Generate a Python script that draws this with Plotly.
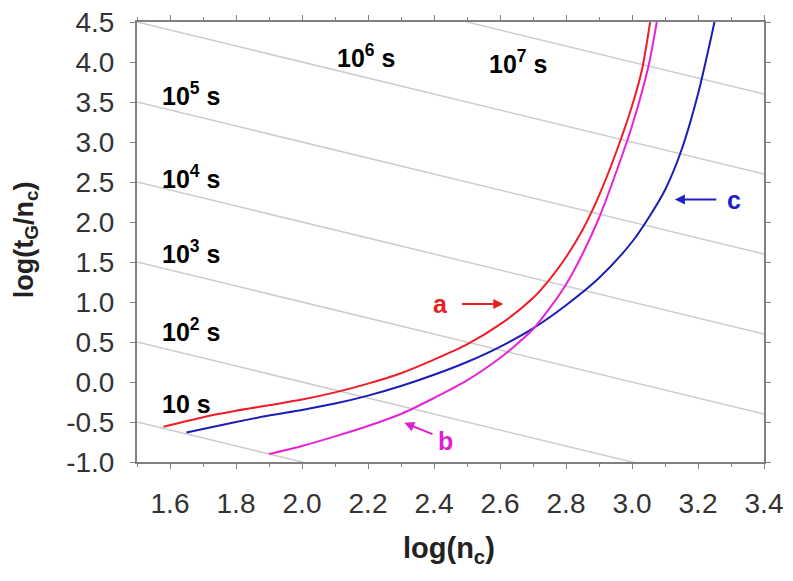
import plotly.graph_objects as go

# curve a (red)
a_x = [1.58, 1.7, 1.8, 1.9, 2.0, 2.1, 2.2, 2.3, 2.4, 2.5, 2.6, 2.7, 2.75, 2.8, 2.85, 2.9, 2.95, 3.0, 3.03, 3.055]
a_y = [-0.56, -0.44, -0.36, -0.29, -0.22, -0.13, -0.02, 0.11, 0.28, 0.47, 0.72, 1.05, 1.28, 1.56, 1.9, 2.33, 2.85, 3.45, 3.9, 4.5]

# curve b (magenta)
b_x = [1.9, 2.0, 2.1, 2.2, 2.3, 2.4, 2.5, 2.6, 2.65, 2.7, 2.75, 2.8, 2.85, 2.9, 2.95, 3.0, 3.05, 3.075]
b_y = [-0.9, -0.8, -0.68, -0.55, -0.4, -0.2, 0.02, 0.3, 0.47, 0.66, 0.92, 1.22, 1.6, 2.05, 2.6, 3.2, 3.95, 4.5]

# curve c (blue)
c_x = [1.65, 1.8, 1.9, 2.0, 2.1, 2.2, 2.3, 2.4, 2.5, 2.6, 2.7, 2.8, 2.9, 3.0, 3.05, 3.1, 3.15, 3.2, 3.25]
c_y = [-0.63, -0.5, -0.42, -0.35, -0.27, -0.17, -0.05, 0.09, 0.25, 0.44, 0.67, 0.96, 1.3, 1.75, 2.05, 2.4, 2.9, 3.6, 4.5]

# iso-time lines: log(tG) = y + x
log_tg = [1, 2, 3, 4, 5, 6, 7]
x_span = [1.5, 3.4]

# labels of the iso-time lines
lbl_text = ["10 s", "10<sup>2</sup> s", "10<sup>3</sup> s", "10<sup>4</sup> s",
            "10<sup>5</sup> s", "10<sup>6</sup> s", "10<sup>7</sup> s"]
lbl_x = [1.57, 1.57, 1.57, 1.57, 1.57, 2.1, 2.56]
lbl_y = [-0.27, 0.65, 1.62, 2.56, 3.6, 4.08, 4.0]

# tick labels
x_ticks = [1.6, 1.8, 2.0, 2.2, 2.4, 2.6, 2.8, 3.0, 3.2, 3.4]
y_ticks = [-1.0, -0.5, 0.0, 0.5, 1.0, 1.5, 2.0, 2.5, 3.0, 3.5, 4.0, 4.5]
y_ticktext = ["-1.0", "-0.5", "0.0", "0.5", "1.0", "1.5", "2.0", "2.5", "3.0", "3.5", "4.0", "4.5"]

fig = go.Figure()

for k in log_tg:
    fig.add_trace(go.Scatter(x=x_span, y=[k - x for x in x_span], mode="lines",
                             line=dict(color="#cccccc", width=1.5), hoverinfo="skip"))

fig.add_trace(go.Scatter(x=c_x, y=c_y, mode="lines", line=dict(color="#1c1cb8", width=2, shape="spline", smoothing=0.8)))
fig.add_trace(go.Scatter(x=b_x, y=b_y, mode="lines", line=dict(color="#e524d8", width=2, shape="spline", smoothing=0.8)))
fig.add_trace(go.Scatter(x=a_x, y=a_y, mode="lines", line=dict(color="#f01c28", width=2, shape="spline", smoothing=0.8)))

for t, x, y in zip(lbl_text, lbl_x, lbl_y):
    fig.add_annotation(x=x, y=y, text="<b>" + t + "</b>", showarrow=False, xanchor="left",
                       font=dict(size=25, color="black", family="Liberation Sans"))

# curve letters with arrows
fig.add_annotation(x=2.61, y=0.975, ax=2.48, ay=0.975, axref="x", ayref="y", text="",
                   showarrow=True, arrowhead=2, arrowsize=1, arrowwidth=2, arrowcolor="#e82020")
fig.add_annotation(x=2.42, y=0.975, text="<b>a</b>", showarrow=False,
                   font=dict(size=25, color="#e82020", family="Liberation Sans"))
fig.add_annotation(x=2.31, y=-0.51, ax=2.4, ay=-0.66, axref="x", ayref="y", text="",
                   showarrow=True, arrowhead=2, arrowsize=1, arrowwidth=2, arrowcolor="#e020d0")
fig.add_annotation(x=2.435, y=-0.74, text="<b>b</b>", showarrow=False,
                   font=dict(size=25, color="#e020d0", family="Liberation Sans"))
fig.add_annotation(x=3.13, y=2.28, ax=3.26, ay=2.28, axref="x", ayref="y", text="",
                   showarrow=True, arrowhead=2, arrowsize=1, arrowwidth=2, arrowcolor="#2020c0")
fig.add_annotation(x=3.31, y=2.28, text="<b>c</b>", showarrow=False,
                   font=dict(size=25, color="#2020c0", family="Liberation Sans"))

# axis titles
fig.add_annotation(xref="paper", yref="paper", x=0.498, y=-0.2, xanchor="center", yanchor="middle",
                   text="<b>log(n<sub>c</sub>)</b>",
                   showarrow=False, font=dict(size=29, color="#222222", family="Liberation Sans"))
fig.add_annotation(xref="paper", yref="paper", x=-0.178, y=0.505, xanchor="center", yanchor="middle",
                   text="<b>log(t<sub>G</sub>/n<sub>c</sub>)</b>",
                   showarrow=False, textangle=-90, font=dict(size=27, color="#222222", family="Liberation Sans"))

axis_common = dict(showgrid=False, zeroline=False, showline=True, linecolor="#808080", linewidth=2,
                   mirror="ticks", ticks="outside", ticklen=5, tickcolor="#808080", automargin=False,
                   ticklabelstandoff=10, ticklabeloverflow="allow",
                   tickfont=dict(size=28, color="#333333", family="Liberation Sans"))

fig.update_xaxes(range=[1.5, 3.4], tickvals=x_ticks, tickformat=".1f",
                 minor=dict(dtick=0.1, ticks="outside", ticklen=3, tickcolor="#808080"),
                 **axis_common)
fig.update_yaxes(range=[-1.0, 4.5], tickvals=y_ticks, ticktext=y_ticktext,
                 **axis_common)

# page body has an 8px margin, so the figure is shrunk and shifted to compensate
fig.update_layout(width=777, height=565, showlegend=False,
                  plot_bgcolor="white", paper_bgcolor="white",
                  margin=dict(l=129, r=21, t=14, b=111))

fig.write_html("out.html")
